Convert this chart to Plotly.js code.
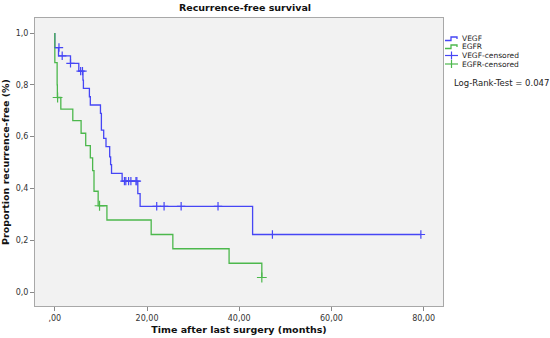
<!DOCTYPE html>
<html><head><meta charset="utf-8">
<script src="https://cdn.plot.ly/plotly-3.0.1.min.js"></script>
<style>html,body{margin:0;padding:0;background:#fff}#chart{width:550px;height:338px}</style>
</head><body><div id="chart"></div>
<script>
// Kaplan-Meier steps (time in months, proportion recurrence-free)
const vegfTime = [0, 0, 0.8, 3.4, 5.2, 6.1, 6.2, 7.5, 7.7, 9.9, 10.1, 10.6, 11.1, 11.9, 12.1, 12.3, 14.6, 18.0, 18.5, 42.9, 79.4];
const vegfSurv = [1.0, 0.944, 0.912, 0.883, 0.853, 0.818, 0.786, 0.754, 0.722, 0.690, 0.625, 0.593, 0.561, 0.522, 0.492, 0.458, 0.428, 0.380, 0.331, 0.222, 0.222];
const egfrTime = [0, 0, 0.5, 0.55, 1.3, 3.9, 5.7, 6.7, 7.7, 8.2, 8.5, 9.4, 11.3, 20.9, 25.6, 37.8, 44.9];
const egfrSurv = [1.0, 0.886, 0.800, 0.751, 0.706, 0.662, 0.613, 0.565, 0.518, 0.469, 0.389, 0.333, 0.278, 0.222, 0.167, 0.111, 0.056];
// censored observations
const vegfCensTime = [0.9, 1.6, 3.4, 5.6, 6.0, 15.1, 15.4, 16.0, 16.5, 17.6, 17.8, 22.1, 23.7, 27.4, 35.4, 47.2, 79.4];
const vegfCensSurv = [0.944, 0.912, 0.883, 0.853, 0.853, 0.428, 0.428, 0.428, 0.428, 0.428, 0.428, 0.331, 0.331, 0.331, 0.331, 0.222, 0.222];
const egfrCensTime = [0.6, 9.7, 44.9];
const egfrCensSurv = [0.751, 0.333, 0.056];
// axis ticks
const xTickVals = [0, 20, 40, 60, 80];
const xTickText = [",00", "20,00", "40,00", "60,00", "80,00"];
const yTickVals = [0, 0.2, 0.4, 0.6, 0.8, 1.0];
const yTickText = ["0,0", "0,2", "0,4", "0,6", "0,8", "1,0"];
const legendNames = ["VEGF", "EGFR", "VEGF-censored", "EGFR-censored"];
const logRankText = "Log-Rank-Test = 0.047";

const BLUE = "rgb(70,70,245)";
const GREEN = "rgb(76,184,76)";
const W = 550, H = 338, L = 35, R = 107, T = 18, B = 32;
const pw = W - L - R, ph = H - T - B;
const px2x = p => (p - L) / pw;
const py2y = p => (H - B - p) / ph;

const traces = [
  {x: vegfTime, y: vegfSurv, type: "scatter", mode: "lines", line: {shape: "hv", color: BLUE, width: 1.3}, name: legendNames[0], showlegend: false},
  {x: egfrTime, y: egfrSurv, type: "scatter", mode: "lines", line: {shape: "hv", color: GREEN, width: 1.3}, name: legendNames[1], showlegend: false},
  {x: vegfCensTime, y: vegfCensSurv, type: "scatter", mode: "markers", marker: {symbol: "cross-thin", size: 6, line: {color: BLUE, width: 1.2}}, name: legendNames[2], showlegend: false},
  {x: egfrCensTime, y: egfrCensSurv, type: "scatter", mode: "markers", marker: {symbol: "cross-thin", size: 7, line: {color: GREEN, width: 1.2}}, name: legendNames[3], showlegend: false}
];

// custom legend (decorative icons)
const shapes = [];
const annotations = [];
const legY = [38.5, 46.5, 55.5, 64];
const legCol = [BLUE, GREEN, BLUE, GREEN];
legY.forEach((yy, i) => {
  if (i < 2) {
    const d = `M ${px2x(445)} ${py2y(yy + 2)} L ${px2x(451)} ${py2y(yy + 2)} L ${px2x(451)} ${py2y(yy - 1.5)} L ${px2x(457)} ${py2y(yy - 1.5)} L ${px2x(457)} ${py2y(yy + 0.5)}`;
    shapes.push({type: "path", xref: "paper", yref: "paper", path: d, line: {color: legCol[i], width: 1.3}});
  } else {
    shapes.push({type: "line", xref: "paper", yref: "paper", x0: px2x(445), x1: px2x(458), y0: py2y(yy), y1: py2y(yy), line: {color: legCol[i], width: 1.2}});
    shapes.push({type: "line", xref: "paper", yref: "paper", x0: px2x(451.5), x1: px2x(451.5), y0: py2y(yy - 4), y1: py2y(yy + 4), line: {color: legCol[i], width: 1.2}});
  }
  annotations.push({xref: "paper", yref: "paper", x: px2x(460), y: py2y(yy), xanchor: "left", yanchor: "middle", showarrow: false,
    text: legendNames[i], font: {family: "DejaVu Sans", size: 7.5, color: "#222"}});
});
annotations.push({xref: "paper", yref: "paper", x: px2x(452), y: py2y(82.5), xanchor: "left", yanchor: "middle", showarrow: false,
  text: logRankText, font: {family: "DejaVu Sans", size: 8.5, color: "#222"}});

const layout = {
  width: W, height: H,
  margin: {l: L, r: R, t: T, b: B, pad: 0},
  paper_bgcolor: "#ffffff", plot_bgcolor: "#f2f2f2",
  showlegend: false,
  title: {text: "Recurrence-free survival", x: 245 / W, xanchor: "center", y: 1 - 8 / H, yanchor: "middle",
    font: {family: "DejaVu Sans", size: 9.5, color: "#111", weight: "bold"}},
  xaxis: {
    range: [-4.3, 84.2], tickvals: xTickVals, ticktext: xTickText, ticks: "outside", ticklen: 4, tickcolor: "#888",
    showgrid: false, zeroline: false, showline: true, mirror: true, linecolor: "#a8a8a8", linewidth: 1,
    tickfont: {family: "DejaVu Sans", size: 8, color: "#333"},
    title: {text: "Time after last surgery (months)", standoff: 4, font: {family: "DejaVu Sans", size: 9.5, color: "#111", weight: "bold"}}
  },
  yaxis: {
    range: [-0.054, 1.058], tickvals: yTickVals, ticktext: yTickText, ticks: "outside", ticklen: 4, tickcolor: "#888",
    showgrid: false, zeroline: false, showline: true, mirror: true, linecolor: "#a8a8a8", linewidth: 1,
    tickfont: {family: "DejaVu Sans", size: 8, color: "#333"},
    title: {text: "Proportion recurrence-free (%)", standoff: 4, font: {family: "DejaVu Sans", size: 9.5, color: "#111", weight: "bold"}}
  },
  shapes: shapes,
  annotations: annotations
};

Plotly.newPlot("chart", traces, layout, {displayModeBar: false, staticPlot: true});
</script></body></html>
